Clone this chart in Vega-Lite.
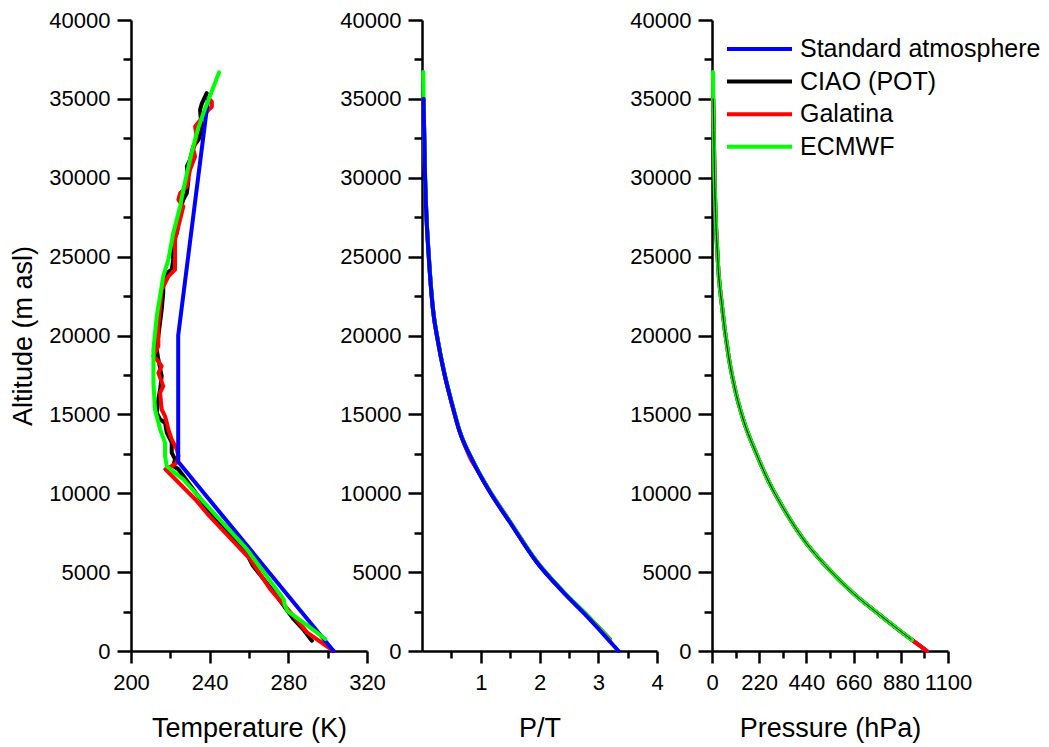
{
  "$schema": "https://vega.github.io/schema/vega-lite/v6.json",
  "background": "white",
  "padding": {"left": 9, "top": 9, "right": 2, "bottom": 2},
  "config": {
    "view": {"stroke": null},
    "font": "Liberation Sans",
    "axis": {
      "grid": false,
      "domainColor": "black",
      "domainWidth": 2.5,
      "tickColor": "black",
      "tickWidth": 2.5,
      "labelFont": "Liberation Sans",
      "labelFontSize": 22,
      "labelColor": "black",
      "labelFlush": false,
      "labelOverlap": false,
      "titleFont": "Liberation Sans",
      "titleFontSize": 27,
      "titleFontWeight": "normal",
      "titleColor": "black"
    },
    "legend": {
      "orient": "none",
      "legendX": 29,
      "legendY": 10.5,
      "title": null,
      "padding": 0,
      "symbolType": "M-2,0L2,0",
      "symbolSize": 1056,
      "symbolStrokeWidth": 4,
      "labelFontSize": 25,
      "labelFont": "Liberation Sans",
      "labelColor": "black",
      "labelOffset": 22,
      "rowPadding": 0.6,
      "labelLimit": 400
    }
  },
  "datasets": {
    "temp": [
      {"s": "Standard atmosphere", "alt": 0, "T": 303},
      {"s": "Standard atmosphere", "alt": 12000, "T": 224},
      {"s": "Standard atmosphere", "alt": 20000, "T": 224},
      {"s": "Standard atmosphere", "alt": 35000, "T": 239.2},
      {"s": "ECMWF", "alt": 760, "T": 298.8},
      {"s": "ECMWF", "alt": 1500, "T": 291},
      {"s": "ECMWF", "alt": 2550, "T": 279.5},
      {"s": "ECMWF", "alt": 2900, "T": 278.2},
      {"s": "ECMWF", "alt": 3290, "T": 277.6},
      {"s": "ECMWF", "alt": 6455, "T": 258.9},
      {"s": "ECMWF", "alt": 8565, "T": 243.4},
      {"s": "ECMWF", "alt": 10870, "T": 226.6},
      {"s": "ECMWF", "alt": 11290, "T": 222.4},
      {"s": "ECMWF", "alt": 11710, "T": 218.2},
      {"s": "ECMWF", "alt": 12360, "T": 217.3},
      {"s": "ECMWF", "alt": 13210, "T": 217.3},
      {"s": "ECMWF", "alt": 14050, "T": 214.8},
      {"s": "ECMWF", "alt": 15310, "T": 212.2},
      {"s": "ECMWF", "alt": 16990, "T": 211.4},
      {"s": "ECMWF", "alt": 19100, "T": 211.4},
      {"s": "ECMWF", "alt": 21220, "T": 213.1},
      {"s": "ECMWF", "alt": 23750, "T": 216.4},
      {"s": "ECMWF", "alt": 24800, "T": 219.0},
      {"s": "ECMWF", "alt": 26500, "T": 221.5},
      {"s": "ECMWF", "alt": 28200, "T": 225.0},
      {"s": "ECMWF", "alt": 29250, "T": 226.6},
      {"s": "ECMWF", "alt": 31150, "T": 230.0},
      {"s": "ECMWF", "alt": 32840, "T": 233.4},
      {"s": "ECMWF", "alt": 34100, "T": 236.8},
      {"s": "ECMWF", "alt": 35480, "T": 241.1},
      {"s": "ECMWF", "alt": 36680, "T": 244.8},
      {"s": "Galatina", "alt": 0, "T": 303},
      {"s": "Galatina", "alt": 1180, "T": 289.5},
      {"s": "Galatina", "alt": 2230, "T": 282.6},
      {"s": "Galatina", "alt": 3920, "T": 270.8},
      {"s": "Galatina", "alt": 5820, "T": 260.6},
      {"s": "Galatina", "alt": 8565, "T": 239.8},
      {"s": "Galatina", "alt": 9620, "T": 232.6},
      {"s": "Galatina", "alt": 11520, "T": 217.5},
      {"s": "Galatina", "alt": 11730, "T": 220.7},
      {"s": "Galatina", "alt": 11940, "T": 223.3},
      {"s": "Galatina", "alt": 12360, "T": 224.1},
      {"s": "Galatina", "alt": 12780, "T": 223.3},
      {"s": "Galatina", "alt": 13420, "T": 220.7},
      {"s": "Galatina", "alt": 14050, "T": 219.0},
      {"s": "Galatina", "alt": 14470, "T": 218.2},
      {"s": "Galatina", "alt": 14890, "T": 217.3},
      {"s": "Galatina", "alt": 15310, "T": 215.6},
      {"s": "Galatina", "alt": 16370, "T": 214.8},
      {"s": "Galatina", "alt": 16790, "T": 216.4},
      {"s": "Galatina", "alt": 17630, "T": 213.9},
      {"s": "Galatina", "alt": 18060, "T": 215.6},
      {"s": "Galatina", "alt": 18480, "T": 213.1},
      {"s": "Galatina", "alt": 18690, "T": 211.4},
      {"s": "Galatina", "alt": 19320, "T": 213.9},
      {"s": "Galatina", "alt": 20590, "T": 213.9},
      {"s": "Galatina", "alt": 21850, "T": 214.8},
      {"s": "Galatina", "alt": 22900, "T": 215.6},
      {"s": "Galatina", "alt": 23750, "T": 219.0},
      {"s": "Galatina", "alt": 24180, "T": 222.4},
      {"s": "Galatina", "alt": 25020, "T": 222.4},
      {"s": "Galatina", "alt": 26070, "T": 222.4},
      {"s": "Galatina", "alt": 28180, "T": 226.6},
      {"s": "Galatina", "alt": 28600, "T": 224.1},
      {"s": "Galatina", "alt": 29030, "T": 225.0},
      {"s": "Galatina", "alt": 29450, "T": 228.4},
      {"s": "Galatina", "alt": 30500, "T": 230.0},
      {"s": "Galatina", "alt": 31350, "T": 232.6},
      {"s": "Galatina", "alt": 31770, "T": 231.7},
      {"s": "Galatina", "alt": 32610, "T": 233.4},
      {"s": "Galatina", "alt": 33250, "T": 232.6},
      {"s": "Galatina", "alt": 34300, "T": 239.4},
      {"s": "Galatina", "alt": 34500, "T": 241.1},
      {"s": "Galatina", "alt": 34820, "T": 241.1},
      {"s": "Galatina", "alt": 35040, "T": 239.4},
      {"s": "CIAO (POT)", "alt": 650, "T": 292},
      {"s": "CIAO (POT)", "alt": 1300, "T": 288},
      {"s": "CIAO (POT)", "alt": 2030, "T": 282.6},
      {"s": "CIAO (POT)", "alt": 4000, "T": 271},
      {"s": "CIAO (POT)", "alt": 5400, "T": 262},
      {"s": "CIAO (POT)", "alt": 6000, "T": 259.5},
      {"s": "CIAO (POT)", "alt": 9000, "T": 239},
      {"s": "CIAO (POT)", "alt": 11520, "T": 224.1},
      {"s": "CIAO (POT)", "alt": 11730, "T": 221.5},
      {"s": "CIAO (POT)", "alt": 12150, "T": 222.4},
      {"s": "CIAO (POT)", "alt": 12570, "T": 220.7},
      {"s": "CIAO (POT)", "alt": 13210, "T": 220.7},
      {"s": "CIAO (POT)", "alt": 13840, "T": 218.2},
      {"s": "CIAO (POT)", "alt": 14470, "T": 217.3},
      {"s": "CIAO (POT)", "alt": 14680, "T": 214.8},
      {"s": "CIAO (POT)", "alt": 15100, "T": 213.1},
      {"s": "CIAO (POT)", "alt": 15950, "T": 213.9},
      {"s": "CIAO (POT)", "alt": 16580, "T": 214.8},
      {"s": "CIAO (POT)", "alt": 17420, "T": 215.6},
      {"s": "CIAO (POT)", "alt": 18480, "T": 213.9},
      {"s": "CIAO (POT)", "alt": 19110, "T": 213.1},
      {"s": "CIAO (POT)", "alt": 19960, "T": 213.9},
      {"s": "CIAO (POT)", "alt": 21640, "T": 215.6},
      {"s": "CIAO (POT)", "alt": 22700, "T": 216.4},
      {"s": "CIAO (POT)", "alt": 23330, "T": 216.4},
      {"s": "CIAO (POT)", "alt": 23970, "T": 218.2},
      {"s": "CIAO (POT)", "alt": 24180, "T": 220.7},
      {"s": "CIAO (POT)", "alt": 24810, "T": 221.5},
      {"s": "CIAO (POT)", "alt": 25650, "T": 220.7},
      {"s": "CIAO (POT)", "alt": 26070, "T": 221.5},
      {"s": "CIAO (POT)", "alt": 26500, "T": 223.3},
      {"s": "CIAO (POT)", "alt": 27970, "T": 225.0},
      {"s": "CIAO (POT)", "alt": 28610, "T": 226.6},
      {"s": "CIAO (POT)", "alt": 29030, "T": 228.4},
      {"s": "CIAO (POT)", "alt": 29870, "T": 229.2},
      {"s": "CIAO (POT)", "alt": 30720, "T": 228.4},
      {"s": "CIAO (POT)", "alt": 31140, "T": 230.0},
      {"s": "CIAO (POT)", "alt": 31980, "T": 231.7},
      {"s": "CIAO (POT)", "alt": 32400, "T": 234.3},
      {"s": "CIAO (POT)", "alt": 33040, "T": 236.0},
      {"s": "CIAO (POT)", "alt": 34300, "T": 235.1},
      {"s": "CIAO (POT)", "alt": 34700, "T": 236.0},
      {"s": "CIAO (POT)", "alt": 35360, "T": 238.5}
    ],
    "pt": [
      {"s": "Standard atmosphere", "alt": 0, "PT": 3.345},
      {"s": "Standard atmosphere", "alt": 2234, "PT": 2.80},
      {"s": "Standard atmosphere", "alt": 3724, "PT": 2.405},
      {"s": "Standard atmosphere", "alt": 5640, "PT": 1.95},
      {"s": "Standard atmosphere", "alt": 8193, "PT": 1.49},
      {"s": "Standard atmosphere", "alt": 10108, "PT": 1.15},
      {"s": "Standard atmosphere", "alt": 12023, "PT": 0.866},
      {"s": "Standard atmosphere", "alt": 13938, "PT": 0.638},
      {"s": "Standard atmosphere", "alt": 15854, "PT": 0.496},
      {"s": "Standard atmosphere", "alt": 17556, "PT": 0.382},
      {"s": "Standard atmosphere", "alt": 19684, "PT": 0.268},
      {"s": "Standard atmosphere", "alt": 21700, "PT": 0.185},
      {"s": "Standard atmosphere", "alt": 25000, "PT": 0.115},
      {"s": "Standard atmosphere", "alt": 28000, "PT": 0.07},
      {"s": "Standard atmosphere", "alt": 30000, "PT": 0.052},
      {"s": "Standard atmosphere", "alt": 35000, "PT": 0.025},
      {"s": "CIAO (POT)", "alt": 750, "PT": 3.19},
      {"s": "CIAO (POT)", "alt": 2234, "PT": 2.81},
      {"s": "CIAO (POT)", "alt": 3724, "PT": 2.41},
      {"s": "CIAO (POT)", "alt": 5640, "PT": 1.955},
      {"s": "CIAO (POT)", "alt": 8193, "PT": 1.495},
      {"s": "CIAO (POT)", "alt": 10108, "PT": 1.155},
      {"s": "CIAO (POT)", "alt": 12023, "PT": 0.87},
      {"s": "CIAO (POT)", "alt": 13938, "PT": 0.64},
      {"s": "CIAO (POT)", "alt": 15854, "PT": 0.497},
      {"s": "CIAO (POT)", "alt": 17556, "PT": 0.383},
      {"s": "CIAO (POT)", "alt": 19684, "PT": 0.27},
      {"s": "CIAO (POT)", "alt": 21700, "PT": 0.186},
      {"s": "CIAO (POT)", "alt": 25000, "PT": 0.116},
      {"s": "CIAO (POT)", "alt": 28000, "PT": 0.071},
      {"s": "CIAO (POT)", "alt": 30000, "PT": 0.053},
      {"s": "CIAO (POT)", "alt": 35000, "PT": 0.026},
      {"s": "Galatina", "alt": 745, "PT": 3.2},
      {"s": "Galatina", "alt": 2234, "PT": 2.815},
      {"s": "Galatina", "alt": 3724, "PT": 2.415},
      {"s": "Galatina", "alt": 5640, "PT": 1.96},
      {"s": "Galatina", "alt": 8193, "PT": 1.5},
      {"s": "Galatina", "alt": 10108, "PT": 1.16},
      {"s": "Galatina", "alt": 11600, "PT": 0.92},
      {"s": "Galatina", "alt": 12023, "PT": 0.85},
      {"s": "Galatina", "alt": 12400, "PT": 0.8},
      {"s": "Galatina", "alt": 13938, "PT": 0.64},
      {"s": "Galatina", "alt": 15854, "PT": 0.497},
      {"s": "Galatina", "alt": 17556, "PT": 0.383},
      {"s": "Galatina", "alt": 19684, "PT": 0.27},
      {"s": "Galatina", "alt": 21700, "PT": 0.186},
      {"s": "Galatina", "alt": 25000, "PT": 0.116},
      {"s": "Galatina", "alt": 28000, "PT": 0.071},
      {"s": "Galatina", "alt": 30000, "PT": 0.05},
      {"s": "Galatina", "alt": 35000, "PT": 0.026},
      {"s": "ECMWF", "alt": 700, "PT": 3.2},
      {"s": "ECMWF", "alt": 2234, "PT": 2.82},
      {"s": "ECMWF", "alt": 3724, "PT": 2.42},
      {"s": "ECMWF", "alt": 5640, "PT": 1.96},
      {"s": "ECMWF", "alt": 8193, "PT": 1.5},
      {"s": "ECMWF", "alt": 10108, "PT": 1.16},
      {"s": "ECMWF", "alt": 12023, "PT": 0.87},
      {"s": "ECMWF", "alt": 13938, "PT": 0.642},
      {"s": "ECMWF", "alt": 15854, "PT": 0.5},
      {"s": "ECMWF", "alt": 17556, "PT": 0.385},
      {"s": "ECMWF", "alt": 19684, "PT": 0.27},
      {"s": "ECMWF", "alt": 21700, "PT": 0.187},
      {"s": "ECMWF", "alt": 25000, "PT": 0.117},
      {"s": "ECMWF", "alt": 28000, "PT": 0.072},
      {"s": "ECMWF", "alt": 30000, "PT": 0.053},
      {"s": "ECMWF", "alt": 35000, "PT": 0.027},
      {"s": "ECMWF", "alt": 36700, "PT": 0.02}
    ],
    "p": [
      {"s": "Standard atmosphere", "alt": 0, "P": 1002},
      {"s": "Standard atmosphere", "alt": 700, "P": 932},
      {"s": "Standard atmosphere", "alt": 2341, "P": 777},
      {"s": "Standard atmosphere", "alt": 3724, "P": 653},
      {"s": "Standard atmosphere", "alt": 5426, "P": 528},
      {"s": "Standard atmosphere", "alt": 6916, "P": 435},
      {"s": "Standard atmosphere", "alt": 8831, "P": 342},
      {"s": "Standard atmosphere", "alt": 10746, "P": 264},
      {"s": "Standard atmosphere", "alt": 12662, "P": 202},
      {"s": "Standard atmosphere", "alt": 14577, "P": 148},
      {"s": "Standard atmosphere", "alt": 16492, "P": 109},
      {"s": "Standard atmosphere", "alt": 18620, "P": 78},
      {"s": "Standard atmosphere", "alt": 21812, "P": 47},
      {"s": "Standard atmosphere", "alt": 25000, "P": 26},
      {"s": "Standard atmosphere", "alt": 30000, "P": 12},
      {"s": "Standard atmosphere", "alt": 35000, "P": 5.7},
      {"s": "Galatina", "alt": 0, "P": 1002},
      {"s": "Galatina", "alt": 700, "P": 932},
      {"s": "Galatina", "alt": 2341, "P": 777},
      {"s": "Galatina", "alt": 3724, "P": 653},
      {"s": "Galatina", "alt": 5426, "P": 528},
      {"s": "Galatina", "alt": 6916, "P": 435},
      {"s": "Galatina", "alt": 8831, "P": 342},
      {"s": "Galatina", "alt": 10746, "P": 264},
      {"s": "Galatina", "alt": 12662, "P": 202},
      {"s": "Galatina", "alt": 14577, "P": 148},
      {"s": "Galatina", "alt": 16492, "P": 109},
      {"s": "Galatina", "alt": 18620, "P": 78},
      {"s": "Galatina", "alt": 21812, "P": 47},
      {"s": "Galatina", "alt": 25000, "P": 26},
      {"s": "Galatina", "alt": 30000, "P": 12},
      {"s": "Galatina", "alt": 35000, "P": 5.7},
      {"s": "ECMWF", "alt": 700, "P": 932},
      {"s": "ECMWF", "alt": 2341, "P": 777},
      {"s": "ECMWF", "alt": 3724, "P": 653},
      {"s": "ECMWF", "alt": 5426, "P": 528},
      {"s": "ECMWF", "alt": 6916, "P": 435},
      {"s": "ECMWF", "alt": 8831, "P": 342},
      {"s": "ECMWF", "alt": 10746, "P": 264},
      {"s": "ECMWF", "alt": 12662, "P": 202},
      {"s": "ECMWF", "alt": 14577, "P": 148},
      {"s": "ECMWF", "alt": 16492, "P": 109},
      {"s": "ECMWF", "alt": 18620, "P": 78},
      {"s": "ECMWF", "alt": 21812, "P": 47},
      {"s": "ECMWF", "alt": 25000, "P": 26},
      {"s": "ECMWF", "alt": 30000, "P": 12},
      {"s": "ECMWF", "alt": 35000, "P": 5.7},
      {"s": "ECMWF", "alt": 36700, "P": 4.5},
      {"s": "CIAO (POT)", "alt": 750, "P": 927},
      {"s": "CIAO (POT)", "alt": 2341, "P": 777},
      {"s": "CIAO (POT)", "alt": 3724, "P": 653},
      {"s": "CIAO (POT)", "alt": 5426, "P": 528},
      {"s": "CIAO (POT)", "alt": 6916, "P": 435},
      {"s": "CIAO (POT)", "alt": 8831, "P": 342},
      {"s": "CIAO (POT)", "alt": 10746, "P": 264},
      {"s": "CIAO (POT)", "alt": 12662, "P": 202},
      {"s": "CIAO (POT)", "alt": 14577, "P": 148},
      {"s": "CIAO (POT)", "alt": 16492, "P": 109},
      {"s": "CIAO (POT)", "alt": 18620, "P": 78},
      {"s": "CIAO (POT)", "alt": 21812, "P": 47},
      {"s": "CIAO (POT)", "alt": 25000, "P": 26},
      {"s": "CIAO (POT)", "alt": 30000, "P": 12},
      {"s": "CIAO (POT)", "alt": 35000, "P": 5.7}
    ]
  },
  "bounds": "flush",
  "spacing": 55,
  "resolve": {
    "scale": {"x": "independent", "y": "independent", "color": "independent"},
    "legend": {"color": "independent"}
  },
  "hconcat": [
    {
      "width": 236,
      "height": 631,
      "data": {"name": "temp"},
      "resolve": {"axis": {"x": "independent", "y": "independent"}},
      "layer": [
        {
          "transform": [{"filter": "datum.s === 'CIAO (POT)'"}],
          "mark": {"type": "line", "strokeWidth": 4, "strokeJoin": "round", "strokeCap": "round"},
          "encoding": {
            "x": {"field": "T", "type": "quantitative", "scale": {"domain": [200, 320], "nice": false, "zero": false},
                  "axis": {"orient": "bottom", "values": [200, 240, 280, 320], "title": "Temperature (K)", "tickSize": 12, "labelPadding": 9, "titlePadding": 22}},
            "y": {"field": "alt", "type": "quantitative", "scale": {"domain": [0, 40000], "nice": false},
                  "axis": {"orient": "left", "values": [0, 5000, 10000, 15000, 20000, 25000, 30000, 35000, 40000], "format": "d", "title": "Altitude (m asl)", "tickSize": 14, "labelPadding": 7, "titlePadding": 11}},
            "color": {"field": "s", "type": "nominal", "scale": {"domain": ["Standard atmosphere", "CIAO (POT)", "Galatina", "ECMWF"], "range": ["#0000ff", "#000000", "#ff0000", "#00ff00"]}, "legend": null},
            "order": {"field": "alt", "type": "quantitative"}
          }
        },
        {
          "transform": [{"filter": "datum.s === 'Galatina'"}],
          "mark": {"type": "line", "strokeWidth": 4, "strokeJoin": "round", "strokeCap": "round"},
          "encoding": {
            "x": {"field": "T", "type": "quantitative",
                  "axis": {"orient": "bottom", "values": [220, 260, 300], "labels": false, "domain": false, "tickSize": 7, "title": null}},
            "y": {"field": "alt", "type": "quantitative",
                  "axis": {"orient": "left", "values": [2500, 7500, 12500, 17500, 22500, 27500, 32500, 37500], "labels": false, "domain": false, "tickSize": 8, "title": null}},
            "color": {"field": "s", "type": "nominal", "legend": null},
            "order": {"field": "alt", "type": "quantitative"}
          }
        },
        {
          "transform": [{"filter": "datum.s === 'Standard atmosphere'"}],
          "mark": {"type": "line", "strokeWidth": 4, "strokeJoin": "round", "strokeCap": "round"},
          "encoding": {
            "x": {"field": "T", "type": "quantitative", "axis": null},
            "y": {"field": "alt", "type": "quantitative", "axis": null},
            "color": {"field": "s", "type": "nominal", "legend": null},
            "order": {"field": "alt", "type": "quantitative"}
          }
        },
        {
          "transform": [{"filter": "datum.s === 'ECMWF'"}],
          "mark": {"type": "line", "strokeWidth": 4, "strokeJoin": "round", "strokeCap": "round"},
          "encoding": {
            "x": {"field": "T", "type": "quantitative", "axis": null},
            "y": {"field": "alt", "type": "quantitative", "axis": null},
            "color": {"field": "s", "type": "nominal", "legend": null},
            "order": {"field": "alt", "type": "quantitative"}
          }
        }
      ]
    },
    {
      "width": 235,
      "height": 631,
      "data": {"name": "pt"},
      "resolve": {"axis": {"x": "independent", "y": "independent"}},
      "layer": [
        {
          "transform": [{"filter": "datum.s === 'CIAO (POT)'"}],
          "mark": {"type": "line", "strokeWidth": 4, "strokeJoin": "round", "strokeCap": "round", "interpolate": "monotone"},
          "encoding": {
            "x": {"field": "PT", "type": "quantitative", "scale": {"domain": [0, 4], "nice": false, "zero": false},
                  "axis": {"orient": "bottom", "values": [1, 2, 3, 4], "title": "P/T", "tickSize": 12, "labelPadding": 9, "titlePadding": 22}},
            "y": {"field": "alt", "type": "quantitative", "scale": {"domain": [0, 40000], "nice": false},
                  "axis": {"orient": "left", "values": [0, 5000, 10000, 15000, 20000, 25000, 30000, 35000, 40000], "format": "d", "title": null, "tickSize": 14, "labelPadding": 7}},
            "color": {"field": "s", "type": "nominal", "scale": {"domain": ["Standard atmosphere", "CIAO (POT)", "Galatina", "ECMWF"], "range": ["#0000ff", "#000000", "#ff0000", "#00ff00"]}, "legend": null},
            "order": {"field": "alt", "type": "quantitative"}
          }
        },
        {
          "transform": [{"filter": "datum.s === 'Galatina'"}],
          "mark": {"type": "line", "strokeWidth": 4, "strokeJoin": "round", "strokeCap": "round", "interpolate": "monotone"},
          "encoding": {
            "x": {"field": "PT", "type": "quantitative",
                  "axis": {"orient": "bottom", "values": [0.5, 1.5, 2.5, 3.5], "labels": false, "domain": false, "tickSize": 7, "title": null}},
            "y": {"field": "alt", "type": "quantitative",
                  "axis": {"orient": "left", "values": [2500, 7500, 12500, 17500, 22500, 27500, 32500, 37500], "labels": false, "domain": false, "tickSize": 8, "title": null}},
            "color": {"field": "s", "type": "nominal", "legend": null},
            "order": {"field": "alt", "type": "quantitative"}
          }
        },
        {
          "transform": [{"filter": "datum.s === 'ECMWF'"}],
          "mark": {"type": "line", "strokeWidth": 4, "strokeJoin": "round", "strokeCap": "round", "interpolate": "monotone"},
          "encoding": {
            "x": {"field": "PT", "type": "quantitative", "axis": null},
            "y": {"field": "alt", "type": "quantitative", "axis": null},
            "color": {"field": "s", "type": "nominal", "legend": null},
            "order": {"field": "alt", "type": "quantitative"}
          }
        },
        {
          "transform": [{"filter": "datum.s === 'Standard atmosphere'"}],
          "mark": {"type": "line", "strokeWidth": 4, "strokeJoin": "round", "strokeCap": "round", "interpolate": "monotone"},
          "encoding": {
            "x": {"field": "PT", "type": "quantitative", "axis": null},
            "y": {"field": "alt", "type": "quantitative", "axis": null},
            "color": {"field": "s", "type": "nominal", "legend": null},
            "order": {"field": "alt", "type": "quantitative"}
          }
        }
      ]
    },
    {
      "width": 236,
      "height": 631,
      "data": {"name": "p"},
      "resolve": {"axis": {"x": "independent", "y": "independent"}},
      "layer": [
        {
          "transform": [{"filter": "datum.s === 'Standard atmosphere'"}],
          "mark": {"type": "line", "strokeWidth": 4, "strokeJoin": "round", "strokeCap": "round", "interpolate": "monotone"},
          "encoding": {
            "x": {"field": "P", "type": "quantitative", "scale": {"domain": [0, 1100], "nice": false, "zero": false},
                  "axis": {"orient": "bottom", "values": [0, 220, 440, 660, 880, 1100], "format": "d", "title": "Pressure (hPa)", "tickSize": 12, "labelPadding": 9, "titlePadding": 22}},
            "y": {"field": "alt", "type": "quantitative", "scale": {"domain": [0, 40000], "nice": false},
                  "axis": {"orient": "left", "values": [0, 5000, 10000, 15000, 20000, 25000, 30000, 35000, 40000], "format": "d", "title": null, "tickSize": 14, "labelPadding": 7}},
            "color": {"field": "s", "type": "nominal", "scale": {"domain": ["Standard atmosphere", "CIAO (POT)", "Galatina", "ECMWF"], "range": ["#0000ff", "#000000", "#ff0000", "#00ff00"]}},
            "order": {"field": "alt", "type": "quantitative"}
          }
        },
        {
          "transform": [{"filter": "datum.s === 'Galatina'"}],
          "mark": {"type": "line", "strokeWidth": 4, "strokeJoin": "round", "strokeCap": "round", "interpolate": "monotone"},
          "encoding": {
            "x": {"field": "P", "type": "quantitative",
                  "axis": {"orient": "bottom", "values": [110, 330, 550, 770, 990], "labels": false, "domain": false, "tickSize": 7, "title": null}},
            "y": {"field": "alt", "type": "quantitative",
                  "axis": {"orient": "left", "values": [2500, 7500, 12500, 17500, 22500, 27500, 32500, 37500], "labels": false, "domain": false, "tickSize": 8, "title": null}},
            "color": {"field": "s", "type": "nominal"},
            "order": {"field": "alt", "type": "quantitative"}
          }
        },
        {
          "transform": [{"filter": "datum.s === 'ECMWF'"}],
          "mark": {"type": "line", "strokeWidth": 4, "strokeJoin": "round", "strokeCap": "round", "interpolate": "monotone"},
          "encoding": {
            "x": {"field": "P", "type": "quantitative", "axis": null},
            "y": {"field": "alt", "type": "quantitative", "axis": null},
            "color": {"field": "s", "type": "nominal"},
            "order": {"field": "alt", "type": "quantitative"}
          }
        },
        {
          "transform": [{"filter": "datum.s === 'CIAO (POT)'"}],
          "mark": {"type": "line", "strokeWidth": 1, "strokeJoin": "round", "strokeCap": "round", "interpolate": "monotone"},
          "encoding": {
            "x": {"field": "P", "type": "quantitative", "axis": null},
            "y": {"field": "alt", "type": "quantitative", "axis": null},
            "color": {"field": "s", "type": "nominal"},
            "order": {"field": "alt", "type": "quantitative"}
          }
        }
      ]
    }
  ]
}
